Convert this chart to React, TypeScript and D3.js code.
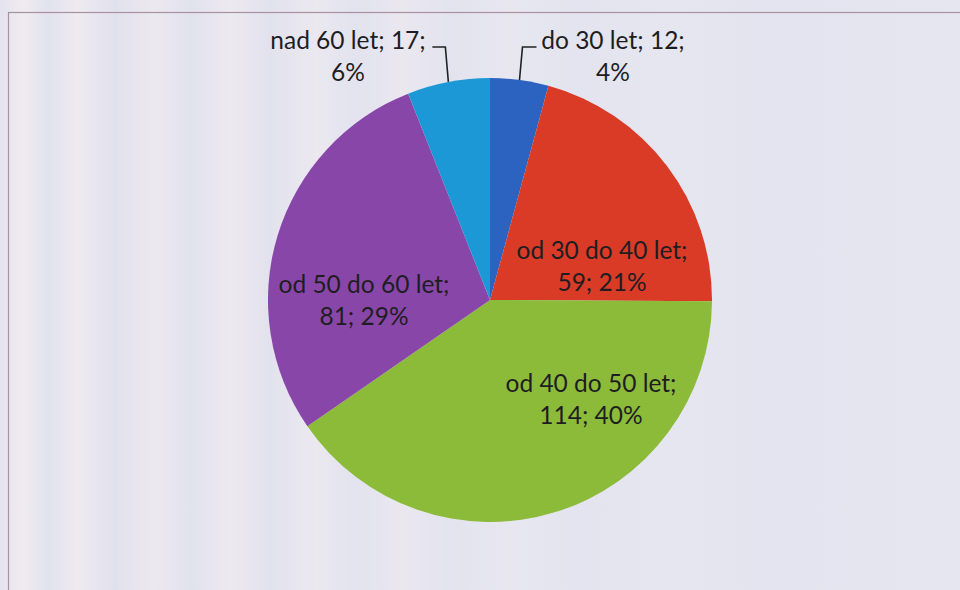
import React from 'react';
import * as d3 from 'd3';

// data
const categories = ['do 30 let', 'od 30 do 40 let', 'od 40 do 50 let', 'od 50 do 60 let', 'nad 60 let'];
const counts = [12, 59, 114, 81, 17];
const percents = ['4%', '21%', '40%', '29%', '6%'];
const colors = ['#2c62c0', '#d93b27', '#8bbb39', '#8946a9', '#1c98d6'];

// label layout (offset of the text block centre from the pie centre)
const labelLayout = [
  { dx: 123, dy: -244, outside: true, split: 'afterCount' },
  { dx: 112, dy: -34, outside: false, split: 'afterName' },
  { dx: 101, dy: 99, outside: false, split: 'afterName' },
  { dx: -126, dy: 0, outside: false, split: 'afterName' },
  { dx: -142, dy: -244, outside: true, split: 'afterCount' },
];

const width = 960;
const height = 590;
const cx = 490;
const cy = 300;
const radius = 222;
const fontSize = 24.5;
const lineGap = 32;

// faint scanned-paper stripes
const stripeStops = [
  [0, '#e4e3ee'], [0.025, '#efebf0'], [0.05, '#e2e2ee'], [0.08, '#eeeaf0'], [0.12, '#e1e1ed'],
  [0.16, '#ece8ef'], [0.2, '#e2e2ee'], [0.24, '#ede9f0'], [0.28, '#e2e2ee'], [0.33, '#ebe8ef'],
  [0.37, '#e2e3ef'], [0.42, '#eae7ef'], [0.47, '#e3e3ef'], [0.53, '#e8e7f0'], [0.6, '#e3e4ef'],
  [0.7, '#e6e6f0'], [0.8, '#e3e4ef'], [1, '#e5e6f0'],
];

export default function App() {
  const data = categories.map((c, i) => ({ name: c, value: counts[i], pct: percents[i], color: colors[i], layout: labelLayout[i] }));
  const pie = d3.pie<typeof data[number]>().sort(null).value(d => d.value);
  const arcs = pie(data);
  const arc = d3.arc<d3.PieArcDatum<typeof data[number]>>().innerRadius(0).outerRadius(radius);
  const edge = d3.arc<d3.PieArcDatum<typeof data[number]>>().innerRadius(radius).outerRadius(radius);

  return (
    <svg width={width} height={height} style={{ position: 'absolute', left: 0, top: 0 }}>
      <defs>
        <linearGradient id="paper" x1="0" x2="1" y1="0" y2="0">
          {stripeStops.map(([o, c], i) => (
            <stop key={i} offset={o as number} stopColor={c as string} />
          ))}
        </linearGradient>
      </defs>
      <rect width={width} height={height} fill="url(#paper)" />
      <rect x={8.5} y={12.5} width={width + 20} height={height + 20} fill="none" stroke="#a8929f" strokeWidth={1.2} />
      <g transform={`translate(${cx},${cy})`}>
        {arcs.map((a, i) => (
          <path key={i} d={arc(a) || ''} fill={a.data.color} />
        ))}
        {arcs.map((a, i) => {
          const L = a.data.layout;
          const line1 = L.split === 'afterName' ? `${a.data.name};` : `${a.data.name}; ${a.data.value};`;
          const line2 = L.split === 'afterName' ? `${a.data.value}; ${a.data.pct}` : a.data.pct;
          const y1 = L.dy - lineGap / 2;
          let leader = null;
          if (L.outside) {
            // leader: short horizontal tick next to the text, then down to the slice edge
            const [ex, ey] = edge.centroid(a);
            const right = L.dx > 0;
            const kx = right ? ex + 3 : ex - 3;
            const sx = right ? kx + 14 : kx - 13;
            const ly = y1 + 7;
            leader = (
              <path d={`M${sx},${ly}H${kx}L${ex},${ey}`} fill="none" stroke="#222" strokeWidth={1.6} />
            );
          }
          return (
            <g key={`l${i}`}>
              {leader}
              <text textAnchor="middle" fontFamily="Lato, 'Open Sans', sans-serif" fontSize={fontSize} fill="#1e1e22">
                <tspan x={L.dx} y={y1} dy="0.35em">{line1}</tspan>
                <tspan x={L.dx} y={y1 + lineGap} dy="0.35em">{line2}</tspan>
              </text>
            </g>
          );
        })}
      </g>
    </svg>
  );
}
